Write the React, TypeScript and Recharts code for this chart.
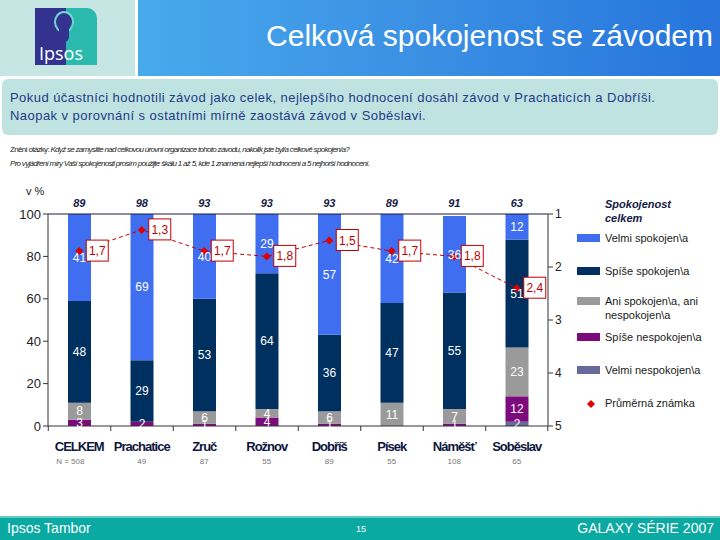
import React from "react";
import {
  ComposedChart,
  Bar,
  Line,
  XAxis,
  YAxis,
  LabelList,
  Legend,
} from "recharts";

const categories = ["CELKEM", "Prachatice", "Zruč", "Rožnov", "Dobříš", "Písek", "Náměšť", "Soběslav"];
const nCounts = ["N = 508", "49", "87", "55", "89", "55", "108", "65"];
const topTwo = [89, 98, 93, 93, 93, 89, 91, 63];

const velmiSpokojen = [41, 69, 40, 29, 57, 42, 36, 12];
const spiseSpokojen = [48, 29, 53, 64, 36, 47, 55, 51];
const aniAni = [8, 0, 6, 4, 6, 11, 7, 23];
const spiseNespokojen = [3, 2, 1, 4, 1, 0, 1, 12];
const velmiNespokojen = [0, 0, 0, 0, 0, 0, 0, 2];
const prumernaZnamka = [1.7, 1.3, 1.7, 1.8, 1.5, 1.7, 1.8, 2.4];

const leftTicks = [0, 20, 40, 60, 80, 100];
const rightTicks = [1, 2, 3, 4, 5];

const data = categories.map((name, i) => ({
  name,
  vn: velmiNespokojen[i],
  sn: spiseNespokojen[i],
  ani: aniAni[i],
  ss: spiseSpokojen[i],
  vs: velmiSpokojen[i],
  avg: prumernaZnamka[i],
}));

const series = [
  { key: "vs", label: "Velmi spokojen\\a", color: "#3f6ff0" },
  { key: "ss", label: "Spíše spokojen\\a", color: "#00305f" },
  { key: "ani", label: "Ani spokojen\\a, ani nespokojen\\a", color: "#9a9a9a" },
  { key: "sn", label: "Spíše nespokojen\\a", color: "#7d0a7d" },
  { key: "vn", label: "Velmi nespokojen\\a", color: "#666b9c" },
];

const colorOf = (k: string) => series.find((s) => s.key === k)!.color;
const hideZero = (v: any) => (v ? v : "");

function CategoryTick(props: any) {
  const { x, y, payload, index } = props;
  const half = 31;
  return (
    <g>
      <line x1={x - half} y1={y} x2={x - half} y2={y + 5} stroke="#333" />
      {index === categories.length - 1 && (
        <line x1={x + half} y1={y} x2={x + half} y2={y + 5} stroke="#333" />
      )}
      <text
        x={x}
        y={y + 25}
        textAnchor="middle"
        fontFamily="Arial, 'Liberation Sans', sans-serif"
        fontWeight="bold"
        fontSize={13}
        letterSpacing={-1}
        fill="#0d1640"
      >
        {payload.value}
      </text>
      <text
        x={index === 0 ? x - 9 : x}
        y={y + 38}
        textAnchor="middle"
        fontFamily="Arial, sans-serif"
        fontSize={8}
        fill="#777"
      >
        {nCounts[index]}
      </text>
    </g>
  );
}

function TopTick(props: any) {
  const { x, y, index } = props;
  return (
    <text
      x={x}
      y={y - 7}
      textAnchor="middle"
      fontFamily="Arial, sans-serif"
      fontWeight="bold"
      fontStyle="italic"
      fontSize={11}
      fill="#141a45"
    >
      {topTwo[index]}
    </text>
  );
}

function Diamond(props: any) {
  const { cx, cy } = props;
  if (cx == null || cy == null) return null;
  const r = 4;
  return (
    <polygon
      points={`${cx},${cy - r} ${cx + r},${cy} ${cx},${cy + r} ${cx - r},${cy}`}
      fill="#e00000"
    />
  );
}

function AvgLabel(props: any) {
  const { x, y, value } = props;
  return (
    <g>
      <rect x={x + 7} y={y - 11} width={22} height={21} fill="#fff" stroke="#c00000" strokeWidth={1} />
      <text
        x={x + 18}
        y={y + 4}
        textAnchor="middle"
        fontFamily="Arial, sans-serif"
        fontSize={12}
        fill="#c00000"
      >
        {String(value).replace(".", ",")}
      </text>
    </g>
  );
}

function LegendBox() {
  const textStyle: React.CSSProperties = {
    fontFamily: "Arial, 'Liberation Sans', sans-serif",
    fontSize: 11,
    color: "#1a1a1a",
    lineHeight: "14px",
  };
  const rows = [
    { s: series[0], top: 36 },
    { s: series[1], top: 69 },
    { s: series[2], top: 99 },
    { s: series[3], top: 135 },
    { s: series[4], top: 168 },
  ];
  return (
    <div style={{ position: "relative", width: 140, height: 220 }}>
      <div
        style={{
          position: "absolute",
          left: 28,
          top: 2,
          fontFamily: "Arial, sans-serif",
          fontSize: 11,
          fontWeight: "bold",
          fontStyle: "italic",
          color: "#141a45",
          lineHeight: "14px",
        }}
      >
        Spokojenost
        <br />
        celkem
      </div>
      {rows.map(({ s, top }) => (
        <div key={s.key}>
          <div
            style={{
              position: "absolute",
              left: 0,
              top: top + 3,
              width: 23,
              height: 8,
              background: s.color,
            }}
          />
          <div style={{ ...textStyle, position: "absolute", left: 28, top, width: 115 }}>
            {s.key === "ani" ? (
              <>
                Ani spokojen\a, ani
                <br />
                nespokojen\a
              </>
            ) : (
              s.label
            )}
          </div>
        </div>
      ))}
      <svg style={{ position: "absolute", left: 9, top: 204 }} width={10} height={10}>
        <polygon points="5,1 9,5 5,9 1,5" fill="#e00000" />
      </svg>
      <div style={{ ...textStyle, position: "absolute", left: 28, top: 201 }}>Průměrná známka</div>
    </div>
  );
}

export default function App() {
  return (
    <div
      style={{
        position: "absolute",
        left: 0,
        top: 0,
        width: 720,
        height: 540,
        background: "#fff",
        overflow: "hidden",
        fontFamily: "Arial, 'Liberation Sans', sans-serif",
      }}
    >
      <ComposedChart
        width={720}
        height={540}
        data={data}
        margin={{ top: 184, right: 142, bottom: 54, left: 8 }}
        barCategoryGap={0}
      >
        <XAxis
          xAxisId="cat"
          dataKey="name"
          axisLine={{ stroke: "#333" }}
          tickLine={false}
          tickSize={0}
          tickMargin={0}
          height={60}
          interval={0}
          tick={<CategoryTick />}
        />
        <XAxis
          xAxisId="top"
          orientation="top"
          dataKey="name"
          axisLine={{ stroke: "#1a1a3a" }}
          tickLine={false}
          tickSize={0}
          tickMargin={0}
          height={30}
          interval={0}
          tick={<TopTick />}
        />
        <YAxis
          yAxisId="pct"
          domain={[0, 100]}
          ticks={leftTicks}
          allowDataOverflow
          width={40}
          axisLine={{ stroke: "#333" }}
          tickLine={{ stroke: "#333" }}
          tickSize={5}
          tick={{ fontSize: 13, fill: "#222", fontFamily: "Arial, sans-serif" }}
        />
        <YAxis
          yAxisId="avg"
          orientation="right"
          domain={[1, 5]}
          ticks={rightTicks}
          reversed
          width={30}
          axisLine={{ stroke: "#333" }}
          tickLine={{ stroke: "#333" }}
          tickSize={5}
          tick={{ fontSize: 12, fill: "#222", fontFamily: "Arial, sans-serif" }}
        />
        {["vn", "sn", "ani", "ss", "vs"].map((k) => (
          <Bar
            key={k}
            dataKey={k}
            xAxisId="cat"
            yAxisId="pct"
            stackId="a"
            fill={colorOf(k)}
            barSize={23}
            isAnimationActive={false}
          >
            <LabelList
              dataKey={k}
              position="center"
              formatter={hideZero}
              fill="#fff"
              fontSize={12}
              fontFamily="Arial, sans-serif"
            />
          </Bar>
        ))}
        <Line
          dataKey="avg"
          xAxisId="cat"
          yAxisId="avg"
          stroke="#c00000"
          strokeWidth={1}
          strokeDasharray="4 3"
          dot={<Diamond />}
          activeDot={false}
          isAnimationActive={false}
        >
          <LabelList dataKey="avg" content={<AvgLabel />} />
        </Line>
        <Legend
          layout="horizontal"
          verticalAlign="middle"
          align="center"
          content={() => <LegendBox />}
          wrapperStyle={{ position: "absolute", left: 577, top: 195, width: 143, height: 220 }}
        />
      </ComposedChart>

      {/* header */}
      <div style={{ position: "absolute", left: 0, top: 0, width: 135, height: 76, background: "#c6e6e3" }} />
      <div
        style={{
          position: "absolute",
          left: 35,
          top: 8,
          width: 62,
          height: 57,
          background: "linear-gradient(90deg, #33338f 0%, #33338f 50%, #2bb9ae 50%, #2bb9ae 100%)",
          borderRadius: "0 10px 0 0",
        }}
      >
        <div
          style={{
            position: "absolute",
            left: 21,
            top: 5,
            width: 16,
            height: 18,
            borderRadius: "50%",
            background: "#33338f",
            boxShadow: "0 0 0 2px #6fd6cf",
          }}
        />
        <div
          style={{
            position: "absolute",
            left: 24,
            top: 20,
            width: 10,
            height: 14,
            background: "#33338f",
            borderRadius: "0 0 6px 6px",
          }}
        />
        <div
          style={{
            position: "absolute",
            left: 4,
            top: 35,
            color: "#fff",
            fontSize: 18,
            lineHeight: "20px",
            fontFamily: "'Open Sans', Arial, sans-serif",
          }}
        >
          Ipsos
        </div>
      </div>
      <div
        style={{
          position: "absolute",
          left: 138,
          top: 0,
          width: 582,
          height: 76,
          background: "linear-gradient(90deg, #48a9ec 0%, #3a8fe3 50%, #2674dc 100%)",
        }}
      />
      <div
        style={{
          position: "absolute",
          right: 7,
          top: 19,
          color: "#fff",
          fontSize: 30,
          lineHeight: "34px",
          fontFamily: "Arial, 'Liberation Sans', sans-serif",
        }}
      >
        Celková spokojenost se závodem
      </div>
      <div
        style={{
          position: "absolute",
          left: 2,
          top: 79,
          width: 716,
          height: 56,
          background: "#bfe3e0",
          borderRadius: 6,
        }}
      />
      <div
        style={{
          position: "absolute",
          left: 10,
          top: 89,
          color: "#1e3a88",
          fontSize: 13,
          lineHeight: "18px",
          letterSpacing: 0.45,
        }}
      >
        Pokud účastníci hodnotili závod jako celek, nejlepšího hodnocení dosáhl závod v Prachaticích a Dobříši.
        <br />
        Naopak v porovnání s ostatními mírně zaostává závod v Soběslavi.
      </div>
      <div
        style={{
          position: "absolute",
          left: 10,
          top: 143,
          color: "#222",
          fontSize: 8,
          lineHeight: "14px",
          fontStyle: "italic",
          whiteSpace: "nowrap",
          letterSpacing: -0.7,
        }}
      >
        <div>
          <span style={{ fontStyle: "normal" }}>Znění otázky: </span>
          Když se zamyslíte nad celkovou úrovní organizace tohoto závodu, nakolik jste byl/a celkově spokojen/a?
        </div>
        <div>
          Pro vyjádření míry Vaší spokojenosti prosím použijte škálu 1 až 5, kde 1 znamená nejlepší hodnocení a 5 nejhorší hodnocení.
        </div>
      </div>
      <div style={{ position: "absolute", left: 26, top: 185, fontSize: 11, color: "#222" }}>v %</div>

      {/* footer */}
      <div
        style={{
          position: "absolute",
          left: 0,
          top: 516,
          width: 720,
          height: 24,
          background: "#0aa9a1",
          borderTop: "2px solid #62cbc5",
          boxSizing: "border-box",
        }}
      />
      <div
        style={{
          position: "absolute",
          left: 7,
          top: 520,
          color: "#fff",
          fontSize: 14,
          fontFamily: "'Liberation Sans Narrow', 'Arial Narrow', Arial, sans-serif",
        }}
      >
        Ipsos Tambor
      </div>
      <div style={{ position: "absolute", left: 356, top: 524, color: "#fff", fontSize: 9 }}>15</div>
      <div
        style={{
          position: "absolute",
          right: 6,
          top: 520,
          color: "#fff",
          fontSize: 14,
          fontFamily: "'Liberation Sans Narrow', 'Arial Narrow', Arial, sans-serif",
        }}
      >
        GALAXY SÉRIE 2007
      </div>
    </div>
  );
}
